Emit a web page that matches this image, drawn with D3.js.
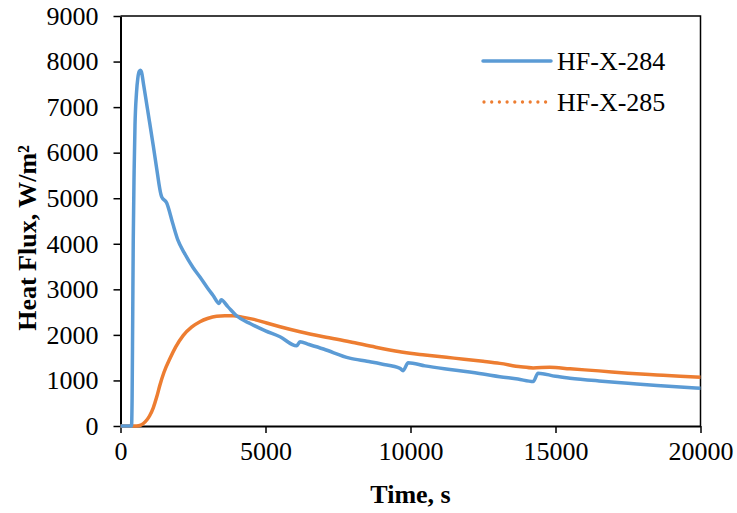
<!DOCTYPE html>
<html>
<head>
<meta charset="utf-8">
<script src="https://cdn.jsdelivr.net/npm/d3@7"></script>
<style>
  html, body { margin: 0; padding: 0; background: #fff; }
  svg { display: block; }
  text { font-family: "Liberation Serif", "Times New Roman", serif; fill: #000; }
</style>
</head>
<body>
<svg id="chart" width="737" height="513"></svg>
<script>
// ---- Data ----
const seriesNames = ["HF-X-284", "HF-X-285"];
const xTicks = [0, 5000, 10000, 15000, 20000];
const yTicks = [0, 1000, 2000, 3000, 4000, 5000, 6000, 7000, 8000, 9000];

const hf284Time = [0, 380, 400, 420, 440, 470, 500, 550, 600, 650, 690, 720, 800, 900, 1000, 1130, 1250, 1395, 1420, 1590, 1800, 1980, 2200, 2500, 2740, 3000, 3200, 3400, 3470, 3700, 4000, 4500, 5000, 5500, 6070, 6190, 6500, 7000, 7900, 8500, 9000, 9640, 9745, 9920, 10500, 11500, 12500, 13080, 13700, 14230, 14400, 15000, 15500, 16500, 17500, 18500, 19300, 20000];
const hf284Value = [0, 0, 600, 2300, 4100, 5600, 6600, 7300, 7650, 7790, 7810, 7780, 7480, 7080, 6680, 6150, 5640, 5080, 5030, 4900, 4450, 4080, 3800, 3480, 3270, 3030, 2860, 2690, 2770, 2620, 2420, 2240, 2090, 1960, 1760, 1850, 1790, 1690, 1490, 1420, 1360, 1265, 1215, 1390, 1320, 1230, 1140, 1082, 1030, 975, 1160, 1090, 1050, 990, 940, 890, 855, 828];

const hf285Time = [0, 550, 700, 850, 1000, 1130, 1250, 1360, 1500, 1705, 1900, 2165, 2450, 2740, 3000, 3315, 3600, 3890, 4200, 4600, 5040, 5500, 6190, 7000, 7900, 8800, 9640, 9985, 10500, 11500, 12500, 13080, 13800, 14230, 14800, 15500, 16500, 17500, 18500, 19300, 20000];
const hf285Value = [0, 0, 20, 90, 220, 400, 640, 900, 1180, 1480, 1730, 1990, 2170, 2290, 2360, 2410, 2420, 2420, 2390, 2340, 2260, 2180, 2070, 1960, 1850, 1730, 1630, 1595, 1560, 1490, 1420, 1375, 1300, 1275, 1290, 1255, 1210, 1160, 1120, 1090, 1068];

const colors = ["#5B9BD5", "#ED7D31"];

// ---- Layout ----
const svg = d3.select("#chart");
const mLeft = 120.5, mRight = 700.5, mTop = 16, mBottom = 426;

const x = d3.scaleLinear().domain([0, 20000]).range([mLeft, mRight]);
const y = d3.scaleLinear().domain([0, 9000]).range([mBottom, mTop]);

// plot frame (top & right)
svg.append("path")
  .attr("d", `M${mLeft},${mTop}H${mRight}V${mBottom}`)
  .attr("fill", "none").attr("stroke", "#000").attr("stroke-width", 1.5);

// axes
const xAxis = svg.append("g").attr("transform", `translate(0,${mBottom})`)
  .call(d3.axisBottom(x).tickValues(xTicks).tickFormat(d3.format("d")).tickSize(7).tickSizeOuter(0).tickPadding(9));
const yAxis = svg.append("g").attr("transform", `translate(${mLeft},0)`)
  .call(d3.axisLeft(y).tickValues(yTicks).tickFormat(d3.format("d")).tickSize(7).tickSizeOuter(0).tickPadding(15));
[xAxis, yAxis].forEach(g => {
  g.select(".domain").attr("stroke", "#000").attr("stroke-width", 2);
  g.selectAll(".tick line").attr("stroke", "#000").attr("stroke-width", 1.5);
  g.selectAll(".tick text").style("font-family", '"Liberation Serif", serif').style("font-size", "26px").attr("fill", "#000");
});

// lines
const line = d3.line().x(d => x(d[0])).y(d => y(d[1])).curve(d3.curveMonotoneX);
const d284 = hf284Time.map((t, i) => [t, hf284Value[i]]);
const d285 = hf285Time.map((t, i) => [t, hf285Value[i]]);

svg.append("path").datum(d285).attr("d", line)
  .attr("fill", "none").attr("stroke", colors[1]).attr("stroke-width", 3.5);
svg.append("path").datum(d284).attr("d", line)
  .attr("fill", "none").attr("stroke", colors[0]).attr("stroke-width", 3.5).attr("stroke-linejoin", "round");

// legend
const leg = svg.append("g");
leg.append("line").attr("x1", 483).attr("x2", 551).attr("y1", 61).attr("y2", 61)
  .attr("stroke", colors[0]).attr("stroke-width", 3.5).attr("stroke-linecap", "round");
leg.append("line").attr("x1", 484).attr("x2", 546).attr("y1", 102).attr("y2", 102)
  .attr("stroke", colors[1]).attr("stroke-width", 3.3).attr("stroke-linecap", "round")
  .attr("stroke-dasharray", "0,7.7");
leg.append("text").attr("x", 557).attr("y", 70).style("font-size", "26px").text(seriesNames[0]);
leg.append("text").attr("x", 557).attr("y", 111).style("font-size", "26px").text(seriesNames[1]);

// axis titles
svg.append("text").attr("x", (mLeft + mRight) / 2).attr("y", 503)
  .attr("text-anchor", "middle").style("font-size", "26px").style("font-weight", "bold")
  .text("Time, s");
svg.append("text").attr("transform", `translate(36,238) rotate(-90)`)
  .attr("text-anchor", "middle").style("font-size", "26px").style("font-weight", "bold")
  .text("Heat Flux, W/m²");
</script>
</body>
</html>
